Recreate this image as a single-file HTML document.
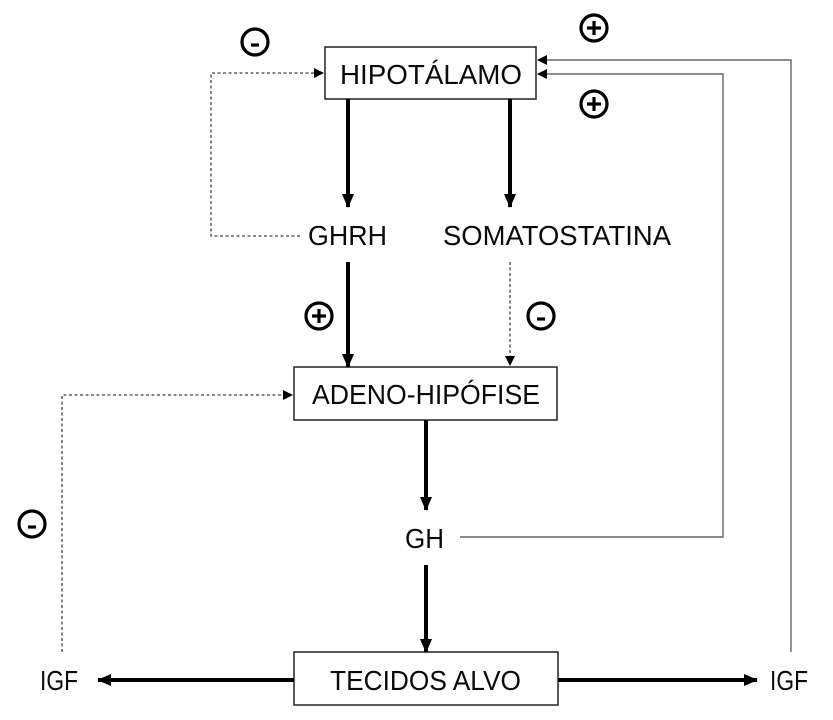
<!DOCTYPE html>
<html><head><meta charset="utf-8"><style>
html,body{margin:0;padding:0;background:#fff;}
svg{display:block;}
text{font-family:"Liberation Sans",sans-serif;font-size:28px;fill:#0a0a0a;}
</style></head><body>
<svg width="833" height="720" viewBox="0 0 833 720" xmlns="http://www.w3.org/2000/svg">
<defs>
<marker id="ab" markerWidth="10" markerHeight="10" refX="9" refY="5" orient="auto" markerUnits="userSpaceOnUse">
<path d="M0,0 L10,5 L0,10 z" fill="#000"/></marker>
<marker id="ab2" markerWidth="14" markerHeight="12" refX="13" refY="6" orient="auto" markerUnits="userSpaceOnUse">
<path d="M0,0 L14,6 L0,12 z" fill="#000"/></marker>
</defs>
<rect x="325" y="47" width="211" height="52" fill="#fff" stroke="#222" stroke-width="1.5"/>
<text x="340" y="84" textLength="182" lengthAdjust="spacingAndGlyphs">HIPOTÁLAMO</text>
<rect x="294" y="367" width="263" height="53" fill="#fff" stroke="#222" stroke-width="1.5"/>
<text x="312" y="404" textLength="228" lengthAdjust="spacingAndGlyphs">ADENO-HIPÓFISE</text>
<rect x="294" y="652" width="264" height="53" fill="#fff" stroke="#222" stroke-width="1.5"/>
<text x="330" y="690" textLength="191" lengthAdjust="spacingAndGlyphs">TECIDOS ALVO</text>
<text x="308" y="245" textLength="79" lengthAdjust="spacingAndGlyphs">GHRH</text>
<text x="443" y="245" textLength="228" lengthAdjust="spacingAndGlyphs">SOMATOSTATINA</text>
<text x="405" y="548" textLength="39" lengthAdjust="spacingAndGlyphs">GH</text>
<text x="40" y="690" textLength="38" lengthAdjust="spacingAndGlyphs">IGF</text>
<text x="770" y="690" textLength="38" lengthAdjust="spacingAndGlyphs">IGF</text>
<g stroke="#000" stroke-width="4" fill="none">
<line x1="348" y1="99" x2="348" y2="207" marker-end="url(#ab2)"/>
<line x1="510" y1="99" x2="510" y2="207" marker-end="url(#ab2)"/>
<line x1="348" y1="262" x2="348" y2="367" marker-end="url(#ab2)"/>
<line x1="426" y1="420" x2="426" y2="510" marker-end="url(#ab2)"/>
<line x1="426" y1="565" x2="426" y2="652" marker-end="url(#ab2)"/>
<line x1="294" y1="680" x2="98" y2="680" marker-end="url(#ab2)"/>
<line x1="558" y1="680" x2="757" y2="680" marker-end="url(#ab2)"/>
</g>
<g stroke="#444" stroke-width="1.3" fill="none" stroke-dasharray="3,2.5">
<polyline points="300,236 211,236 211,73 323,73" marker-end="url(#ab)"/>
<line x1="510" y1="262" x2="510" y2="365" marker-end="url(#ab)"/>
<polyline points="62,652 62,395 292,395" marker-end="url(#ab)"/>
</g>
<g stroke="#666" stroke-width="1.4" fill="none">
<polyline points="460,537 723,537 723,74 538,74" marker-end="url(#ab)"/>
<polyline points="791,652 791,60 538,60" marker-end="url(#ab)"/>
</g>
<g stroke="#000" stroke-width="3.2" fill="none">
<circle cx="255" cy="42" r="13"/><line x1="251" y1="45" x2="259" y2="45"/>
<circle cx="594" cy="28" r="13"/><line x1="587" y1="28" x2="601" y2="28"/><line x1="594" y1="21" x2="594" y2="35"/>
<circle cx="594" cy="104" r="13"/><line x1="587" y1="104" x2="601" y2="104"/><line x1="594" y1="97" x2="594" y2="111"/>
<circle cx="319" cy="316" r="13"/><line x1="312" y1="316" x2="326" y2="316"/><line x1="319" y1="309" x2="319" y2="323"/>
<circle cx="541" cy="316" r="13"/><line x1="537" y1="319" x2="545" y2="319"/>
<circle cx="32" cy="524" r="13"/><line x1="28" y1="527" x2="36" y2="527"/>
</g>
</svg>
</body></html>
